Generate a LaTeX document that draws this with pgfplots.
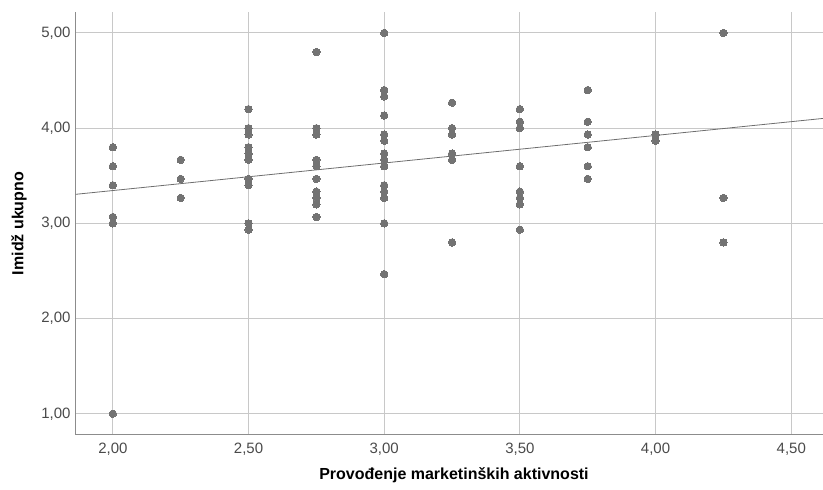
\documentclass[border=0pt]{standalone}
\usepackage{pgfplots}
\pgfplotsset{compat=1.18}
\usepackage{fontspec}
\setmainfont{Liberation Sans}

\definecolor{dotgray}{HTML}{737373}
\definecolor{gridgray}{HTML}{C8C8C8}
\definecolor{axisgray}{HTML}{8C8C8C}
\definecolor{fitgray}{HTML}{6E6E6E}
\definecolor{ticktext}{HTML}{4A4A4A}

\begin{document}
\begin{tikzpicture}
  \path[use as bounding box] (-75.7bp,-55.3bp) rectangle (747.3bp,434.7bp);
  \begin{axis}[
      scale only axis,
      width=747.3bp, height=422.7bp,
      xmin=1.863, xmax=4.617,
      ymin=0.78, ymax=5.22,
      xtick={2,2.5,3,3.5,4,4.5},
      ytick={1,2,3,4,5},
      major tick length=0pt,
      axis x line*=bottom,
      axis y line*=left,
      axis line style={axisgray, line width=1bp},
      grid=major,
      major grid style={gridgray, line width=1bp},
      /pgf/number format/.cd, fixed, fixed zerofill, precision=2, use comma, assume math mode=true,
      /pgfplots/.cd,
      ticklabel style={font=\fontsize{15bp}{18bp}\selectfont, text=ticktext},
      yticklabel style={xshift=-1.7bp},
      xticklabel style={yshift=-4.6bp},
      xlabel={Provođenje marketinških aktivnosti},
      ylabel={Imidž ukupno},
      label style={font=\fontsize{16bp}{19bp}\selectfont\bfseries},
      xlabel style={at={(axis description cs:0.5062,-0.1055)}, anchor=base},
      ylabel style={at={(axis description cs:-0.0701,0.4997)}, anchor=base},
    ]

    % regression line across the plot
    \addplot[fitgray, line width=0.8bp] coordinates {(1.863,3.305) (4.617,4.102)};

    \addplot[only marks, color=dotgray, mark=*, mark size=3.7bp,
      mark options={fill=dotgray, draw=dotgray, line width=0pt}] coordinates {
      (2,3.8) (2,3.6) (2,3.4) (2,3.067) (2,3.0) (2,1.0)
      (2.25,3.667) (2.25,3.467) (2.25,3.267)
      (2.5,4.2) (2.5,4.0) (2.5,3.933) (2.5,3.8) (2.5,3.733) (2.5,3.667)
      (2.5,3.467) (2.5,3.4) (2.5,3.0) (2.5,2.933)
      (2.75,4.8) (2.75,4.0) (2.75,3.933) (2.75,3.667) (2.75,3.6) (2.75,3.467)
      (2.75,3.333) (2.75,3.267) (2.75,3.2) (2.75,3.067)
      (3,5.0) (3,4.4) (3,4.333) (3,4.133) (3,3.933) (3,3.867) (3,3.733)
      (3,3.667) (3,3.6) (3,3.4) (3,3.333) (3,3.267) (3,3.0) (3,2.467)
      (3.25,4.267) (3.25,4.0) (3.25,3.933) (3.25,3.733) (3.25,3.667) (3.25,2.8)
      (3.5,4.2) (3.5,4.067) (3.5,4.0) (3.5,3.6) (3.5,3.333) (3.5,3.267)
      (3.5,3.2) (3.5,2.933)
      (3.75,4.4) (3.75,4.067) (3.75,3.933) (3.75,3.8) (3.75,3.6) (3.75,3.467)
      (4,3.933) (4,3.867)
      (4.25,5.0) (4.25,3.267) (4.25,2.8)
    };
  \end{axis}
\end{tikzpicture}
\end{document}
